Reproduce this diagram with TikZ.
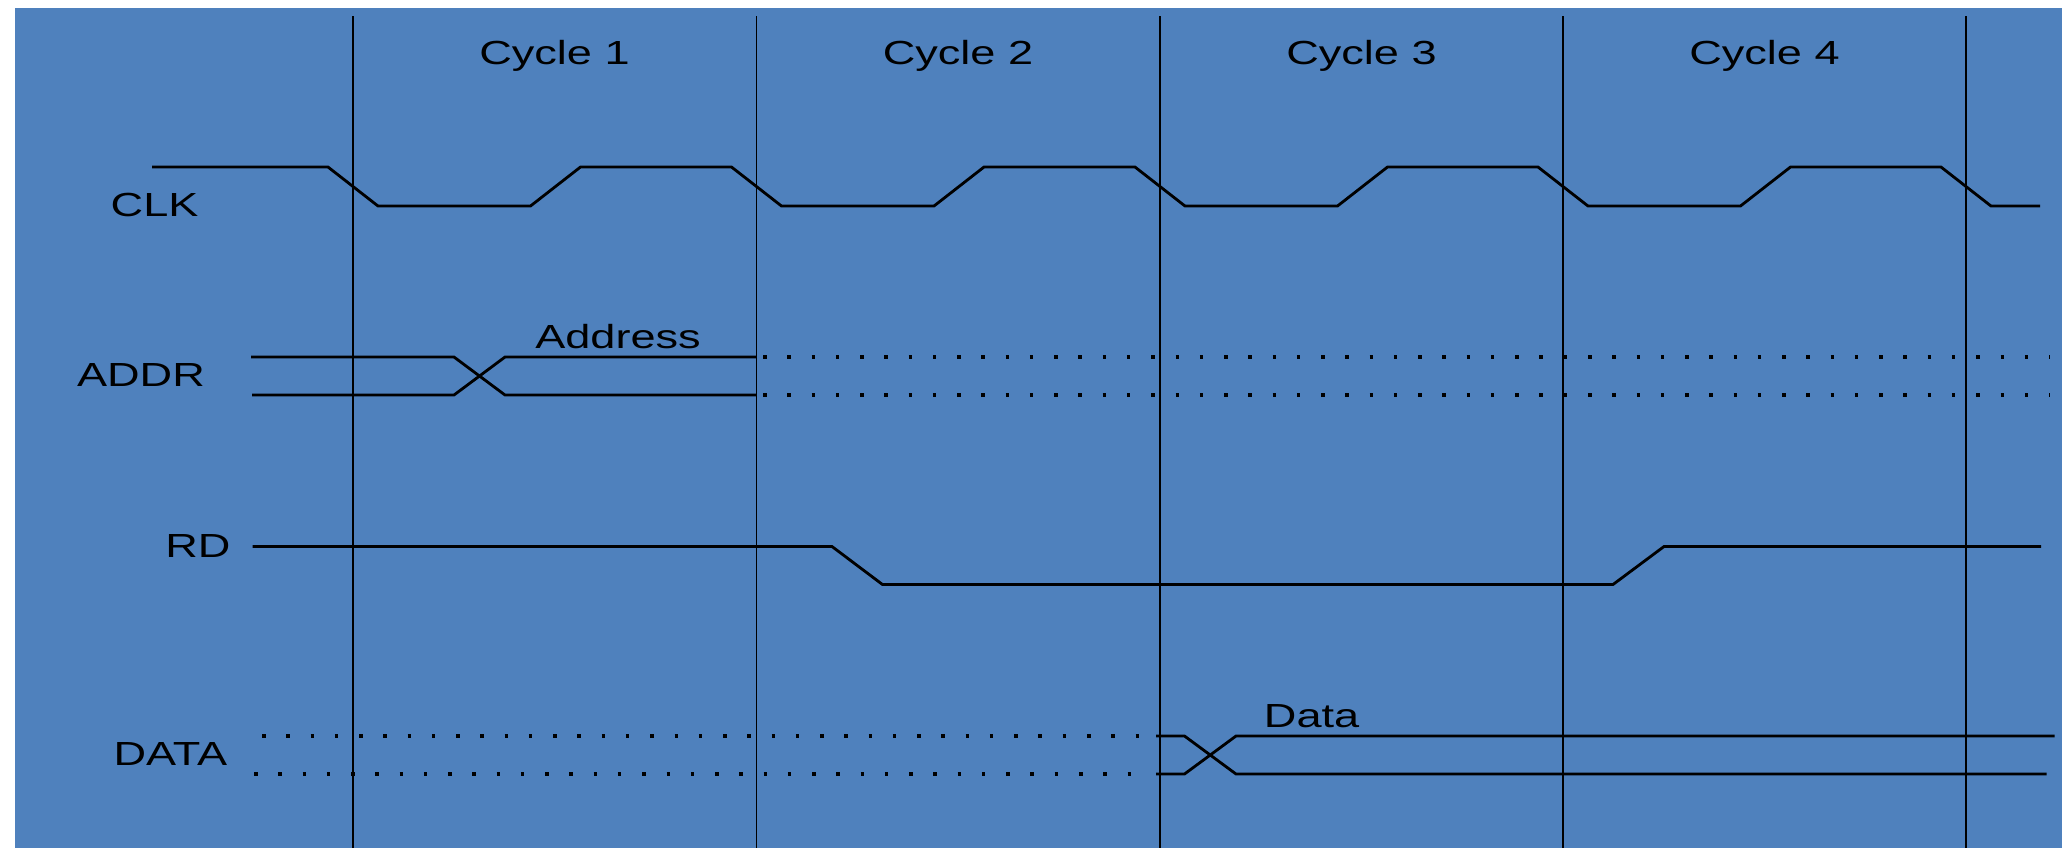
\documentclass[tikz,border=0pt]{standalone}
\usepackage{fontspec}
\setmainfont{Liberation Sans}
\definecolor{bgblue}{HTML}{4F81BD}
\tikzset{
    sig/.style={line width=0.8pt},
    tick/.style={line width=0.4pt},
    dots/.style={line width=1pt, dash pattern=on 1pt off 5.9pt},
    lbl/.style={font=\fontsize{9.5}{11}\selectfont, anchor=base, inner sep=0pt, xscale=1.35}
}
\begin{document}
\begin{tikzpicture}[x=0.01cm, y=-0.01cm]
    % Background
    \useasboundingbox (0,0) rectangle (2062,847);
    \fill[bgblue] (15,8) rectangle (2070,855);

    % Cycle Boundaries
    \draw[tick] (353,16) -- (353,855);
    \draw[tick] (756.5,16) -- (756.5,855);
    \draw[tick] (1160,16) -- (1160,855);
    \draw[tick] (1563,16) -- (1563,855);
    \draw[tick] (1966,16) -- (1966,855);

    % Cycle Headers
    \node[lbl] (cyc1) at (554.5,64) {Cycle 1};
    \node[lbl] (cyc2) at (958,64) {Cycle 2};
    \node[lbl] (cyc3) at (1361.5,64) {Cycle 3};
    \node[lbl] (cyc4) at (1764.5,64) {Cycle 4};

    % Signal Names
    \node[lbl] (clk) at (154.6,216) {CLK};
    \node[lbl] (addr) at (141,386.7) {ADDR};
    \node[lbl] (rd) at (198,557) {RD};
    \node[lbl] (data) at (170.3,765) {DATA};

    % CLK
    \draw[sig] (152,167) -- (328,167) -- (378,206) -- (530.5,206) -- (580.5,167)
        -- (731.5,167) -- (781.5,206) -- (934,206) -- (984,167)
        -- (1135,167) -- (1185,206) -- (1337.5,206) -- (1387.5,167)
        -- (1538,167) -- (1588,206) -- (1740.5,206) -- (1790.5,167)
        -- (1941,167) -- (1991,206) -- (2040,206);

    % ADDR
    % -- valid part
    \draw[sig] (251,357) -- (454,357) -- (505,395) -- (756.5,395);
    \draw[sig] (252,395) -- (454,395) -- (505,357) -- (756.5,357);
    \node[lbl] (addrval) at (618,348) {Address};
    % -- don't care part
    \draw[dots] (763,357) -- (2050,357);
    \draw[dots] (763,395) -- (2050,395);

    % RD
    \draw[sig] (252.5,546.5) -- (832,546.5) -- (882.5,584.5) -- (1613,584.5)
        -- (1664,546.5) -- (2041,546.5);

    % DATA
    % -- don't care part
    \draw[dots] (262,736) -- (1140,736);
    \draw[dots] (254,774) -- (1150,774);
    % -- valid part
    \draw[sig] (1156,736) -- (1184.5,736) -- (1236,774) -- (2046.6,774);
    \draw[sig] (1156,774) -- (1184.5,774) -- (1236,736) -- (2054.6,736);
    \node[lbl] (dataval) at (1311.6,727) {Data};
\end{tikzpicture}
\end{document}
